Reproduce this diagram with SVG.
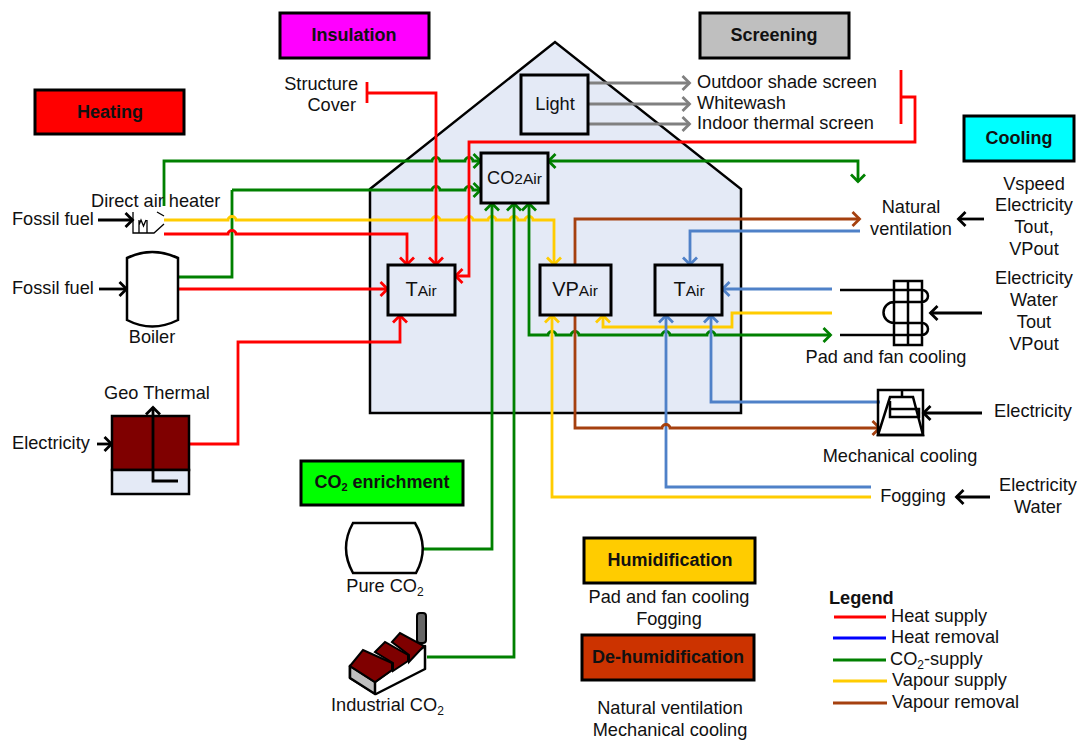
<svg xmlns="http://www.w3.org/2000/svg" width="1083" height="744" viewBox="0 0 1083 744">
<style>
text{font-family:"Liberation Sans",Arial,sans-serif;font-size:18.2px;fill:#111}
.m{text-anchor:middle}.r{text-anchor:end}
.b{font-weight:bold;font-size:18px;text-anchor:middle}
.lb{stroke:#000;stroke-width:3;fill:#E4EAF6}
.tag{stroke:#000;stroke-width:3}
.c{fill:none;stroke-width:2.800;stroke-linejoin:miter}
.red{stroke:#FF0000}.grn{stroke:#008000}.yel{stroke:#FFCC00}.blu{stroke:#4F81C8}.brn{stroke:#A5400F}.gry{stroke:#808080}.blk{stroke:#000}
.ar-red{marker-end:url(#mr)}.ar-grn{marker-end:url(#mg)}.ar-yel{marker-end:url(#my)}.ar-blu{marker-end:url(#mb)}.ar-brn{marker-end:url(#mn)}.ar-gry{marker-end:url(#ma)}.ar-blk{marker-end:url(#mk)}
.ic{fill:none;stroke:#000;stroke-width:2.500}
.thin{fill:none;stroke:#000;stroke-width:1.300}
.s{font-size:12px}.n{font-size:15.500px}
</style>
<defs>
<marker id="mr" markerUnits="userSpaceOnUse" markerWidth="12" markerHeight="18" viewBox="0 0 12 18" refX="10" refY="9" orient="auto"><path d="M2.500,2L9.500,9L2.500,16" fill="none" stroke="#FF0000" stroke-width="2.800"/></marker>
<marker id="mg" markerUnits="userSpaceOnUse" markerWidth="12" markerHeight="18" viewBox="0 0 12 18" refX="10" refY="9" orient="auto"><path d="M2.500,2L9.500,9L2.500,16" fill="none" stroke="#008000" stroke-width="2.800"/></marker>
<marker id="mgs" markerUnits="userSpaceOnUse" markerWidth="12" markerHeight="18" viewBox="0 0 12 18" refX="2" refY="9" orient="auto"><path d="M9.500,2L2.500,9L9.500,16" fill="none" stroke="#008000" stroke-width="2.800"/></marker>
<marker id="my" markerUnits="userSpaceOnUse" markerWidth="12" markerHeight="18" viewBox="0 0 12 18" refX="10" refY="9" orient="auto"><path d="M2.500,2L9.500,9L2.500,16" fill="none" stroke="#FFCC00" stroke-width="2.800"/></marker>
<marker id="mb" markerUnits="userSpaceOnUse" markerWidth="12" markerHeight="18" viewBox="0 0 12 18" refX="10" refY="9" orient="auto"><path d="M2.500,2L9.500,9L2.500,16" fill="none" stroke="#4F81C8" stroke-width="2.800"/></marker>
<marker id="mn" markerUnits="userSpaceOnUse" markerWidth="12" markerHeight="18" viewBox="0 0 12 18" refX="10" refY="9" orient="auto"><path d="M2.500,2L9.500,9L2.500,16" fill="none" stroke="#A5400F" stroke-width="2.800"/></marker>
<marker id="ma" markerUnits="userSpaceOnUse" markerWidth="12" markerHeight="18" viewBox="0 0 12 18" refX="10" refY="9" orient="auto"><path d="M2.500,2L9.500,9L2.500,16" fill="none" stroke="#808080" stroke-width="2.800"/></marker>
<marker id="mk" markerUnits="userSpaceOnUse" markerWidth="12" markerHeight="18" viewBox="0 0 12 18" refX="10" refY="9" orient="auto"><path d="M2.500,2L9.500,9L2.500,16" fill="none" stroke="#000" stroke-width="2.800"/></marker>
</defs>

<g id="house"><path d="M370,189L555,42L741,189V413H370Z" fill="#E4EAF6" stroke="#000" stroke-width="2.500"/></g>

<g id="tag-heating"><rect class="tag" x="35" y="90" width="149" height="44" fill="#FF0000"/><text class="b" x="110" y="118">Heating</text></g>
<g id="tag-insulation"><rect class="tag" x="280" y="13" width="149" height="45" fill="#FF00FF"/><text class="b" x="354" y="41">Insulation</text></g>
<g id="tag-screening"><rect class="tag" x="700" y="13" width="149" height="45" fill="#BFBFBF"/><text class="b" x="774" y="41">Screening</text></g>
<g id="tag-cooling"><rect class="tag" x="964" y="116" width="110" height="45" fill="#00FFFF"/><text class="b" x="1019" y="144">Cooling</text></g>
<g id="tag-co2"><rect class="tag" x="301" y="461" width="162" height="44" fill="#00FF00"/><text class="b" x="382" y="488">CO<tspan font-size="11" dy="3">2</tspan><tspan dy="-3"> enrichment</tspan></text></g>
<g id="tag-humid"><rect class="tag" x="584" y="538" width="171" height="45" fill="#FFCC00"/><text class="b" x="670" y="566">Humidification</text></g>
<g id="tag-dehumid"><rect class="tag" x="582" y="635" width="172" height="45" fill="#CC3300"/><text class="b" x="668" y="663">De-humidification</text></g>

<g id="connectors">
<path class="c grn ar-grn" d="M164,206V161H432a4,3.500 0 0 1 8,0H465a4,3.500 0 0 1 8,0H481"/>
<path class="c grn" d="M177,277H232V190"/>
<path class="c grn ar-grn" d="M232,190H432a4,3.500 0 0 1 8,0H465a4,3.500 0 0 1 8,0H481"/>
<path class="c yel ar-yel" d="M164,220H228a4,3.500 0 0 1 8,0H432a4,3.500 0 0 1 8,0H465a4,3.500 0 0 1 8,0H488a4,3.500 0 0 1 8,0H510a4,3.500 0 0 1 8,0H525a4,3.500 0 0 1 8,0H554V265"/>
<path class="c red ar-red" d="M164,234H228a4,3.500 0 0 1 8,0H407V265"/>
<path class="c red ar-red" d="M177,289H388"/>
<path class="c red ar-red" d="M189,444H238V342H400V315"/>
<path class="c red ar-red" d="M366,93H436V265"/>
<path class="c red" d="M367,82V103"/>
<path class="c red ar-red" d="M901,70V124M901,97H915V142H469V276H455"/>
<path class="c grn ar-grn" d="M421,549H492V203"/>
<path class="c grn ar-grn" d="M427,657H514V203"/>
<path class="c grn ar-grn" d="M529,203V335H548a4,3.500 0 0 1 8,0H571a4,3.500 0 0 1 8,0H662a4,3.500 0 0 1 8,0H707a4,3.500 0 0 1 8,0H831" style="marker-start:url(#mgs)"/>
<path class="c grn ar-grn" d="M548,161H858V182" style="marker-start:url(#mgs)"/>
<path class="c brn ar-brn" d="M575,265V219H860"/>
<path class="c blu ar-blu" d="M860,231H690V265"/>
<path class="c blu ar-blu" d="M832,289H722"/>
<path class="c yel ar-yel" d="M832,313H732V327H603V315"/>
<path class="c blu ar-blu" d="M871,487H666V315"/>
<path class="c yel ar-yel" d="M871,497H552V315"/>
<path class="c blu ar-blu" d="M880,402H711V315"/>
<path class="c brn ar-brn" d="M575,315V428H662a4,3.500 0 0 1 8,0H880"/>
<path class="c gry ar-gry" d="M588,83H690"/>
<path class="c gry ar-gry" d="M588,104H690"/>
<path class="c gry ar-gry" d="M588,124H690"/>
<path class="c blk ar-blk" d="M98,220H133"/>
<path class="c blk ar-blk" d="M99,289H127"/>
<path class="c blk ar-blk" d="M97,444H112"/>
<path class="c blk ar-blk" d="M984,219H958"/>
<path class="c blk ar-blk" d="M982,313H930"/>
<path class="c blk ar-blk" d="M982,413H923"/>
<path class="c blk ar-blk" d="M990,497H956"/>
</g>

<g id="node-light"><rect class="lb" x="521" y="75" width="67" height="59"/><text class="m" x="555" y="110">Light</text></g>
<g id="node-co2air"><rect class="lb" x="481" y="153" width="67" height="50"/><text class="m" x="514.500" y="184">CO<tspan class="n">2Air</tspan></text></g>
<g id="node-tair-left"><rect class="lb" x="388" y="265" width="67" height="50"/><text class="m" x="421" y="296" style="font-size:20px">T<tspan class="n">Air</tspan></text></g>
<g id="node-vpair"><rect class="lb" x="540" y="265" width="71" height="50"/><text class="m" x="575" y="296" style="font-size:20px">VP<tspan class="n">Air</tspan></text></g>
<g id="node-tair-right"><rect class="lb" x="655" y="265" width="67" height="50"/><text class="m" x="689" y="296" style="font-size:20px">T<tspan class="n">Air</tspan></text></g>

<g id="node-direct-heater">
<path class="thin" d="M133,212V233H154L164,224M139,220V233M147,220V233M139,225L141,220L143.500,226L146,220M157,212L164,216"/>
<text x="91" y="207">Direct air heater</text>
</g>
<g id="node-boiler"><path d="M127,258Q152,246 178,258V320Q152,333 127,320Z" fill="#fff" stroke="#000" stroke-width="2.500"/><text class="m" x="152" y="343">Boiler</text></g>
<g id="node-geo">
<rect x="112" y="416" width="77" height="54" fill="#7F0000" stroke="#000" stroke-width="2.500"/>
<rect x="112" y="470" width="77" height="24" fill="#E4EAF6" stroke="#000" stroke-width="2.500"/>
<path class="c blk ar-blk" d="M178,481H153V407"/>
<text class="m" x="157" y="399">Geo Thermal</text>
</g>
<g id="node-pure"><path d="M353,523H415Q430,548 416,573H353Q339,548 353,523Z" fill="#fff" stroke="#000" stroke-width="2.500"/><text class="m" x="385" y="592">Pure CO<tspan class="s" dy="4">2</tspan></text></g>
<g id="node-industrial">
<rect x="417" y="613" width="9" height="30" rx="3" fill="#666" stroke="#000" stroke-width="2"/>
<path d="M350,666L375,682L425,646V669L376,694L350,678Z" fill="#fff" stroke="#000" stroke-width="2.500" stroke-linejoin="round"/>
<path d="M350,666L375,682V694L350,678Z" fill="#BFBFBF" stroke="#000" stroke-width="2.500" stroke-linejoin="round"/>
<path d="M350,666L363,650L392,663V670L375,682Z" fill="#7F0000" stroke="#000" stroke-width="2"/>
<path d="M375,652L385,642L408,655V661L393,671V663Z" fill="#7F0000" stroke="#000" stroke-width="2"/>
<path d="M392,642L400,633L424,646L409,662V655Z" fill="#7F0000" stroke="#000" stroke-width="2"/>
<text x="331" y="711">Industrial CO<tspan class="s" dy="4">2</tspan></text>
</g>
<g id="node-pad">
<path d="M840,290H922A6,6 0 0 1 922,302H894A10.500,10.500 0 0 0 894,323H922A6,6 0 0 1 922,335H840M894,281H922V345H894ZM908,281V345" class="ic"/>
<text class="m" x="886" y="363">Pad and fan cooling</text>
</g>
<g id="node-mech">
<rect class="ic" x="878" y="390" width="45" height="45"/>
<path class="ic" d="M890,397H913L923,435H878Z"/>
<path class="ic" d="M890,409H919V417H890V401M902,390V397"/>
<text class="m" x="900" y="462">Mechanical cooling</text>
</g>

<g id="labels">
<text x="12" y="225">Fossil fuel</text>
<text x="12" y="294">Fossil fuel</text>
<text x="12" y="449">Electricity</text>
<text class="r" x="358" y="90">Structure</text>
<text class="r" x="356" y="111">Cover</text>
<text x="697" y="88">Outdoor shade screen</text>
<text x="697" y="109">Whitewash</text>
<text x="697" y="129">Indoor thermal screen</text>
<text class="m" x="1034" y="190">Vspeed</text>
<text class="m" x="1034" y="211">Electricity</text>
<text class="m" x="1034" y="233">Tout,</text>
<text class="m" x="1034" y="255">VPout</text>
<text class="m" x="911" y="213">Natural</text>
<text class="m" x="911" y="235">ventilation</text>
<text class="m" x="1034" y="284">Electricity</text>
<text class="m" x="1034" y="306">Water</text>
<text class="m" x="1034" y="328">Tout</text>
<text class="m" x="1034" y="350">VPout</text>
<text class="m" x="1033" y="417">Electricity</text>
<text class="m" x="913" y="502">Fogging</text>
<text class="m" x="1038" y="491">Electricity</text>
<text class="m" x="1038" y="513">Water</text>
<text class="m" x="669" y="603">Pad and fan cooling</text>
<text class="m" x="669" y="625">Fogging</text>
<text class="m" x="670" y="714">Natural ventilation</text>
<text class="m" x="670" y="736">Mechanical cooling</text>
</g>

<g id="legend">
<text x="829" y="604" style="font-weight:bold">Legend</text>
<path class="c red" d="M834,617H886"/><text x="891" y="622">Heat supply</text>
<path class="c" stroke="#0000FF" d="M833,638H886"/><text x="891" y="643">Heat removal</text>
<path class="c grn" d="M833,660H886"/><text x="890" y="665">CO<tspan class="s" dy="4">2</tspan><tspan dy="-4">-supply</tspan></text>
<path class="c yel" d="M833,681H887"/><text x="892" y="686">Vapour supply</text>
<path class="c brn" d="M833,703H887"/><text x="892" y="708">Vapour removal</text>
</g>
</svg>
